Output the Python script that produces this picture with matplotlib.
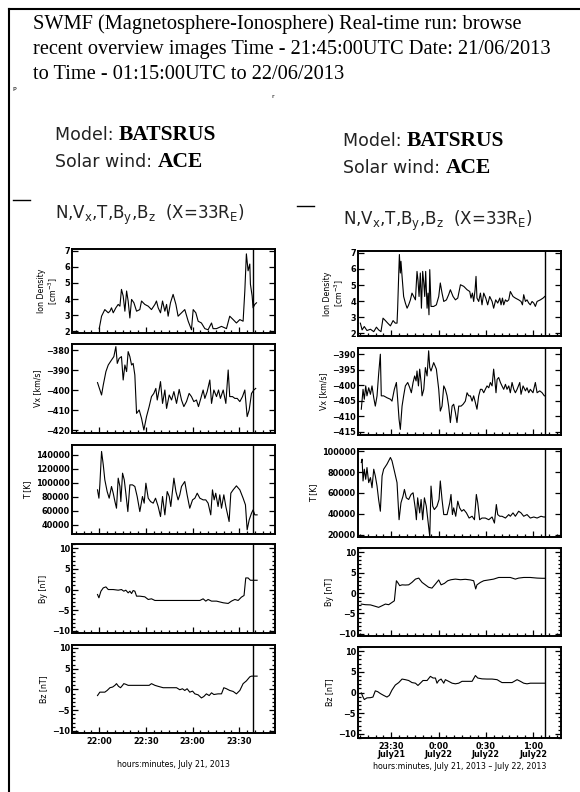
import matplotlib
matplotlib.use('Agg')
import matplotlib.pyplot as plt
from matplotlib.lines import Line2D
from matplotlib.ticker import MultipleLocator, FixedLocator

plt.rcParams['mathtext.default'] = 'regular'

W, H = 580, 792

title_lines = ["SWMF (Magnetosphere-Ionosphere) Real-time run: browse",
               "recent overview images Time - 21:45:00UTC Date: 21/06/2013",
               "to Time - 01:15:00UTC to 22/06/2013"]

# ---- left column: minutes after 22:00, July 21 ----
left_ticks = [0, 30, 60, 90]
left_ticklabels = ['22:00', '22:30', '23:00', '23:30']
left_xlim = (-17.5, 113)
left_now = 98.7

ln_t = [0, 1.5, 3.6, 5.8, 6.9, 7.9, 9.0, 10.7, 12.2, 13.3, 14.3, 15.4, 16.5, 17.6, 18.6,
        19.7, 20.8, 22.3, 24.0, 26.1, 27.2, 29.3, 31.5, 33.6, 35.8, 36.8, 37.9, 39.4, 40.7,
        42.2, 43.3, 44.3, 45.8, 47.5, 49.3, 50.7, 52.9, 55.0, 57.2, 59.3, 60.4, 62.1, 63.6,
        65.7, 67.9, 70.0, 72.2, 73.2, 75.4, 78.6, 81.8, 83.9, 86.1, 88.2, 90.4, 92.5, 93.6,
        94.6, 95.7, 96.8, 97.2, 98.3, 98.9, 100.0, 101.1]
ln_v = [2.17, 2.94, 3.35, 3.15, 3.25, 3.46, 3.15, 3.46, 3.67, 3.56, 4.60, 4.19, 3.25, 4.50, 3.88,
        2.83, 3.98, 3.77, 3.25, 3.35, 3.88, 3.67, 3.56, 3.35, 3.67, 3.88, 3.46, 3.15, 3.88,
        3.25, 3.67, 2.94, 3.77, 4.29, 3.67, 2.94, 3.15, 3.35, 2.63, 2.10, 3.35, 3.15, 2.63,
        2.52, 2.17, 2.10, 2.52, 2.17, 2.17, 2.31, 2.17, 2.94, 2.73, 2.52, 2.73, 2.63, 4.50,
        6.80, 5.75, 6.17, 4.92, 4.19, 3.46, 3.67, 3.77]

lv_t = [-1.1, 1.5, 2.6, 4.3, 5.8, 7.9, 9.4, 10.7, 11.6, 12.8, 14.3, 15.4, 16.5, 17.6, 18.6,
        19.7, 20.8, 21.8, 22.9, 24.0, 25.7, 27.2, 28.7, 30.4, 32.1, 33.6, 35.1, 36.4, 37.3,
        38.5, 39.4, 40.7, 42.2, 43.3, 45.0, 46.5, 48.0, 49.7, 51.4, 52.9, 54.4, 56.1, 57.8,
        59.3, 60.8, 62.5, 63.8, 65.3, 66.8, 67.9, 69.4, 71.1, 72.2, 73.7, 75.4, 76.7, 77.9,
        79.7, 81.4, 82.9, 83.9, 85.7, 87.2, 88.7, 90.4, 92.1, 93.6, 95.1, 96.4, 97.9, 99.4, 100.6]
lv_v = [-396.3, -402.5, -397.5, -390.8, -387.5, -385.0, -383.3, -378.3, -386.7, -384.2,
        -383.3, -395.0, -387.5, -390.8, -380.8, -383.3, -387.5, -386.7, -392.5, -411.7,
        -410.0, -414.2, -420.0, -413.3, -408.3, -403.3, -401.7, -399.2, -405.0, -400.0,
        -395.8, -406.7, -400.0, -409.2, -402.5, -405.0, -400.8, -406.7, -399.7, -405.0,
        -408.3, -405.8, -401.7, -403.3, -405.8, -405.0, -408.3, -404.2, -400.0, -404.2,
        -400.8, -395.0, -406.7, -400.0, -403.3, -400.0, -404.2, -400.0, -406.7, -390.0,
        -403.3, -403.3, -404.2, -404.2, -405.8, -403.3, -400.0, -413.3, -410.0, -401.7,
        -400.0, -399.2]

lT_t = [-1.1, -0.2, 0.4, 1.5, 2.6, 3.6, 5.1, 6.4, 7.9, 9.0, 10.1, 11.1, 12.2, 13.3, 13.9,
        15.0, 16.1, 17.1, 18.4, 19.7, 21.4, 22.9, 24.4, 26.1, 27.8, 28.9, 30.0, 31.5, 33.0,
        34.7, 36.2, 37.9, 39.4, 40.7, 42.2, 43.7, 45.0, 46.0, 48.0, 49.3, 50.7, 51.8, 52.9,
        55.0, 56.5, 58.2, 60.0, 61.5, 63.0, 64.7, 66.8, 68.5, 70.0, 71.7, 72.8, 73.9, 74.9,
        76.4, 77.5, 78.6, 80.1, 81.4, 83.5, 84.6, 86.1, 88.2, 90.4, 92.5, 94.0, 95.1, 96.4,
        97.9, 98.9, 100.0, 101.5]
lT_v = [90000, 78100, 97100, 144800, 125700, 104300, 87600, 78100, 94800, 85200, 73300, 63800,
        106700, 94800, 73300, 113800, 104300, 85200, 59000, 97100, 97100, 94800, 80500, 59000,
        80500, 71000, 99500, 78100, 73300, 71000, 78100, 66200, 51900, 80500, 54300, 87600,
        80500, 66200, 106700, 87600, 75700, 82900, 94800, 101900, 82900, 63800, 75700, 78100,
        85200, 78100, 75700, 75700, 71000, 54300, 90000, 75700, 85200, 66200, 82900, 63800,
        82900, 66200, 44800, 85200, 90000, 95700, 90000, 78100, 68600, 32900, 47100, 56700,
        61400, 54300, 54300]

lBy_t = [-1.1, -0.2, 1.1, 2.6, 4.3, 5.8, 9.0, 12.2, 14.3, 15.8, 17.1, 18.6, 19.7, 20.8, 21.8,
         22.9, 24.0, 26.1, 29.3, 31.5, 33.6, 35.8, 39.0, 47.5, 56.1, 64.7, 66.8, 68.5, 70.0,
         72.2, 75.4, 79.7, 82.9, 85.0, 87.2, 89.3, 91.4, 93.1, 94.2, 95.7, 97.2, 98.9, 101.5]
lBy_v = [-1.2, -2.0, -0.4, 0.4, 0.64, 0.0, 0.0, -0.16, 0.0, -0.4, -0.16, -0.8, -0.4, -0.96,
         -0.24, -0.4, -1.6, -1.6, -1.76, -2.4, -2.24, -2.64, -2.64, -2.64, -2.64, -2.64, -2.24,
         -2.8, -2.4, -2.8, -2.8, -3.2, -3.36, -2.8, -2.4, -2.64, -1.84, -1.44, 2.8, 2.8, 2.24,
         2.24, 2.24]

lBz_t = [-1.1, 0.4, 3.6, 5.1, 6.9, 8.6, 10.1, 11.1, 12.4, 13.7, 15.0, 15.8, 17.1, 18.6, 20.8,
         24.0, 26.1, 28.7, 30.4, 32.1, 33.6, 35.8, 37.9, 41.1, 44.3, 47.5, 49.7, 51.8, 53.5,
         55.0, 56.5, 58.2, 60.0, 61.5, 63.6, 65.7, 67.2, 68.9, 70.7, 72.2, 73.7, 76.4, 78.6,
         80.1, 81.8, 83.9, 86.1, 88.2, 90.4, 92.5, 94.6, 96.8, 97.9, 101.5]
lBz_v = [-1.48, -0.66, -0.66, -0.25, 0.41, 0.57, 0.98, 1.39, 0.74, 0.41, 0.98, 1.39, 1.23, 0.98,
         0.98, 0.98, 0.98, 0.98, 0.98, 0.98, 1.39, 0.98, 0.74, 0.41, 0.41, 0.41, 0.41, -0.08,
         0.16, -0.25, 0.16, -0.66, -0.41, -1.07, -1.31, -2.05, -1.72, -1.07, -1.48, -0.82,
         -1.23, -1.07, -1.07, 0.41, 0.16, -0.25, -0.49, -1.07, -0.25, 1.39, 2.05, 3.03, 3.2, 3.2]

# ---- right column: minutes after 23:30, July 21 ----
right_ticks = [0, 30, 60, 90]
right_ticklabels = ['23:30\nJuly21', '0:00\nJuly22', '0:30\nJuly22', '1:00\nJuly22']
right_xlim = (-21.2, 107.8)
right_now = 97.9

rn_t = [-19.7, -18.6, -17.2, -15.5, -13.3, -11.2, -9.5, -8.1, -6.6, -5.3, -3.8, -2.3, -0.6,
        1.1, 2.5, 3.6, 4.0, 4.7, 5.1, 5.7, 6.1, 6.8, 7.8, 8.9, 10.0, 11.0, 12.1, 13.1, 14.2,
        15.3, 16.3, 16.9, 17.6, 18.4, 19.1, 19.9, 20.6, 21.2, 21.8, 22.7, 23.3, 23.9, 24.4,
        25.2, 26.9, 28.6, 30.1, 31.1, 32.2, 33.3, 35.0, 36.4, 37.5, 39.2, 40.7, 42.2, 43.9,
        46.0, 48.1, 49.8, 50.6, 51.5, 52.3, 53.2, 53.8, 54.4, 55.5, 56.6, 57.6, 58.7, 60.0,
        61.2, 62.5, 64.0, 65.0, 66.3, 67.6, 68.9, 69.7, 70.6, 71.4, 72.5, 73.5, 74.6, 75.6,
        77.3, 78.8, 80.9, 82.4, 83.3, 84.1, 85.2, 86.2, 87.3, 88.3, 89.4, 90.5, 91.5, 92.6,
        94.7, 96.4, 97.5]
rn_v = [2.63, 2.21, 2.42, 2.17, 2.25, 2.10, 2.38, 2.21, 2.10, 2.94, 2.79, 2.63, 2.46,
        2.79, 2.63, 2.63, 3.56, 5.75, 6.90, 5.75, 6.48, 5.54, 4.29, 3.88, 3.56, 3.77, 4.08,
        4.50, 4.29, 4.08, 5.85, 5.33, 4.29, 5.75, 3.56, 5.85, 5.13, 4.29, 5.85, 3.56, 4.50,
        3.15, 5.96, 3.67, 3.67, 3.77, 4.29, 5.13, 4.50, 3.98, 4.08, 4.40, 4.71, 4.29, 4.08,
        4.19, 5.02, 4.92, 4.71, 4.60, 4.19, 4.50, 3.98, 4.71, 5.54, 4.19, 3.98, 4.50, 3.77,
        4.50, 4.19, 3.77, 4.29, 3.98, 3.56, 4.08, 3.88, 4.19, 3.77, 4.19, 3.77, 4.08, 3.98,
        4.08, 4.60, 4.29, 4.19, 4.08, 3.98, 3.77, 4.40, 3.98, 4.08, 3.88, 3.77, 3.98, 3.88,
        3.67, 3.98, 4.08, 4.19, 4.29]

rv_t = [-19.1, -18.0, -17.2, -16.3, -15.5, -14.4, -13.3, -12.3, -11.2, -10.2, -9.1, -8.1,
        -7.0, -6.4, -4.9, -2.8, -0.6, 0.4, 1.9, 3.2, 4.0, 4.9, 5.7, 6.8, 7.8, 8.9, 10.4, 11.7,
        12.7, 13.8, 14.8, 15.7, 16.3, 17.2, 18.0, 18.9, 19.5, 20.6, 21.6, 22.7, 23.7, 24.4,
        25.2, 26.9, 28.6, 30.1, 31.1, 32.2, 33.3, 34.3, 35.4, 36.4, 37.5, 38.6, 39.6, 40.7,
        41.7, 42.8, 44.3, 45.6, 47.0, 48.1, 49.2, 50.2, 51.3, 52.3, 53.4, 54.4, 55.5, 56.6,
        57.6, 58.7, 59.7, 60.8, 61.9, 62.9, 64.0, 65.0, 65.7, 66.5, 67.2, 68.2, 69.3, 70.3,
        71.4, 72.5, 73.5, 74.6, 75.6, 76.7, 77.8, 78.8, 79.9, 81.6, 82.4, 83.7, 85.2, 86.2,
        87.3, 88.3, 90.0, 91.5, 92.6, 94.3, 95.8, 97.2, 97.9]
rv_v = [-407.7, -401.3, -404.5, -400.2, -403.4, -400.8, -402.9, -400.2, -404.0, -406.7,
        -403.4, -396.5, -390.0, -403.4, -403.4, -404.0, -404.5, -405.1, -401.3, -399.1,
        -404.5, -411.0, -414.2, -406.7, -403.4, -400.2, -399.1, -400.8, -402.4, -399.1,
        -397.0, -398.6, -395.4, -400.2, -394.8, -399.1, -403.4, -401.3, -394.3, -397.0,
        -388.9, -394.3, -395.4, -392.7, -394.8, -401.3, -408.3, -406.7, -400.2, -401.3,
        -403.4, -406.7, -412.0, -406.7, -406.1, -408.8, -412.0, -406.7, -406.7, -406.1,
        -405.1, -402.4, -403.4, -403.4, -405.1, -403.4, -405.6, -407.7, -403.4, -401.3,
        -401.3, -402.4, -401.3, -400.2, -400.8, -399.1, -400.2, -394.8, -398.1, -402.4,
        -398.1, -397.5, -399.1, -400.2, -401.3, -399.7, -401.3, -400.2, -402.4, -399.1,
        -401.3, -402.4, -401.3, -399.1, -402.9, -400.2, -401.8, -400.8, -402.4, -401.3,
        -402.4, -399.1, -402.4, -401.8, -402.4, -403.4, -403.4]

rT_t = [-19.1, -18.6, -18.0, -17.2, -16.3, -15.5, -14.4, -13.3, -12.3, -11.2, -10.2, -9.1,
        -8.1, -7.0, -5.9, -4.9, -2.8, -0.6, 0.4, 1.9, 3.6, 4.9, 6.1, 7.4, 8.3, 9.5, 11.0, 12.5,
        13.8, 15.3, 15.9, 16.7, 18.0, 18.9, 19.9, 21.0, 22.2, 23.3, 24.4, 25.2, 26.3, 27.3,
        29.0, 30.3, 31.1, 32.2, 33.3, 35.4, 37.1, 37.9, 38.8, 39.6, 40.9, 42.2, 43.4, 44.7,
        46.0, 47.7, 49.4, 51.3, 52.8, 54.0, 54.9, 56.1, 57.6, 59.7, 61.9, 64.0, 65.5, 66.7,
        67.6, 68.9, 70.3, 72.5, 74.6, 75.6, 77.3, 78.8, 80.9, 82.4, 84.1, 86.2, 88.3, 90.5,
        92.6, 95.1, 96.8, 97.9]
rT_v = [89100, 92300, 71500, 82700, 73100, 84300, 69900, 74700, 65000, 82700, 76300, 66600,
        53800, 42600, 76300, 82700, 87500, 93900, 90700, 81100, 69900, 34500, 50600, 57000,
        63400, 55400, 53800, 58600, 60200, 44200, 34500, 55400, 41000, 53800, 34500, 55400,
        47400, 32900, 18500, 66600, 47400, 44200, 47400, 53800, 71500, 53800, 39400, 39400,
        50600, 58600, 39400, 45800, 37800, 52200, 45800, 42600, 44200, 41000, 36100, 37800,
        34500, 58600, 50600, 34500, 36100, 36100, 34500, 37100, 31300, 49000, 39400, 37800,
        37800, 36100, 39400, 37800, 41000, 37800, 42600, 41000, 37800, 39400, 36100, 37100,
        36100, 37800, 37100, 37100]

rBy_t = [-19.1, -16.5, -13.3, -10.2, -8.1, -5.9, -3.8, -1.7, 0.4, 1.9, 3.2, 4.0, 5.3, 6.8,
         8.9, 11.0, 13.1, 15.3, 17.4, 19.5, 21.6, 23.7, 25.8, 28.0, 30.1, 31.6, 33.7, 35.8,
         37.9, 40.7, 43.9, 47.0, 50.2, 52.3, 53.6, 54.4, 56.6, 58.7, 61.9, 65.0, 68.2, 71.4,
         75.6, 78.8, 80.9, 84.1, 88.3, 92.6, 95.8, 97.9]
rBy_v = [-2.7, -2.85, -2.9, -3.25, -3.5, -3.1, -2.7, -2.85, -2.3, -1.9, 3.0, 2.6, 1.8, 2.0,
         1.95, 2.0, 2.6, 3.4, 3.65, 2.6, 2.0, 1.4, 1.2, 2.2, 3.2, 2.0, 2.35, 3.0, 3.25, 3.4,
         3.25, 3.35, 3.2, 3.0, 1.0, 2.0, 2.6, 3.0, 3.2, 3.4, 3.8, 3.8, 3.8, 3.4, 3.65, 3.8,
         3.8, 3.65, 3.6, 3.6]

rBz_t = [-19.1, -18.0, -17.2, -15.5, -13.3, -11.7, -10.2, -8.7, -7.0, -4.9, -2.8, -1.3, 0.4,
         2.5, 4.7, 6.8, 8.9, 11.0, 13.1, 15.3, 16.9, 18.4, 20.1, 22.7, 24.8, 26.5, 28.0, 29.0,
         30.1, 31.6, 33.3, 34.3, 36.4, 38.6, 40.7, 42.8, 44.9, 47.0, 49.2, 51.3, 53.4, 54.9,
         57.6, 60.8, 64.0, 67.2, 68.9, 70.3, 73.5, 76.7, 79.9, 82.0, 84.1, 86.2, 88.3, 91.5,
         94.7, 97.9]
rBz_v = [-0.1, -1.1, -1.7, -1.3, -1.25, -1.1, 0.4, 0.2, -0.25, -0.7, -1.1, -0.7, 0.6, 1.8,
         2.4, 3.25, 3.1, 2.9, 2.4, 2.25, 1.7, 2.25, 2.9, 2.9, 3.9, 3.5, 3.5, 2.25, 2.9, 3.25,
         2.25, 3.1, 2.7, 2.25, 2.1, 2.25, 2.7, 2.7, 2.7, 2.7, 4.1, 3.5, 3.3, 3.25, 3.25, 3.1,
         2.7, 2.4, 2.4, 2.4, 3.1, 2.7, 2.25, 2.1, 2.25, 2.25, 2.25, 2.25]

ylabels = ['Ion Density\n[cm$^{-3}$]', 'Vx [km/s]', 'T [K]', 'By [nT]', 'Bz [nT]']
B_ticks = [-10, -5, 0, 5, 10]


def fx(x):
    return x / W


def fy(y):
    return 1 - y / H


def rect(x0, y0, x1, y1):
    return [x0 / W, 1 - y1 / H, (x1 - x0) / W, (y1 - y0) / H]


fig = plt.figure(figsize=(W / 100, H / 100), dpi=100)
renderer = fig.canvas.get_renderer()

# page border
fig.add_artist(Line2D([fx(9), 1], [fy(9), fy(9)], color='black', lw=1.5, transform=fig.transFigure))
fig.add_artist(Line2D([fx(9), fx(9)], [fy(9), 0], color='black', lw=1.5, transform=fig.transFigure))

for i, line in enumerate(title_lines):
    fig.text(fx(33), fy(29 + 25 * i), line, family='Liberation Serif', fontsize=14.7, va='baseline')

fig.text(fx(12), fy(91), 'P', fontsize=4.5)
fig.text(fx(271), fy(98), 'r', fontsize=4.5)


def header(x, y, label, value):
    t = fig.text(fx(x), fy(y), label, fontsize=12.5, va='baseline', color='#222222')
    bb = t.get_window_extent(renderer)
    fig.text(bb.x1 / W, fy(y), value, family='Liberation Serif', weight='bold',
             fontsize=15.5, va='baseline')


def column_header(x, y0, dash_x):
    header(x, y0, 'Model: ', 'BATSRUS')
    header(x, y0 + 27, 'Solar wind: ', 'ACE')
    fig.add_artist(Line2D([fx(dash_x), fx(dash_x + 17)], [fy(y0 + 60), fy(y0 + 60)],
                          color='black', lw=1, transform=fig.transFigure))
    fig.text(fx(x), fy(y0 + 79), 'N,V$_x$,T,B$_y$,B$_z$  (X=33R$_E$)', fontsize=12,
             va='baseline', color='#222222')


column_header(55, 140, 13)
column_header(343, 146, 297)


def panel(box, t, v, ylim, yticks, ylabel, xlim, now, xticks, xticklabels, bottom, bminor=False):
    ax = fig.add_axes(rect(*box))
    ax.plot(t, v, color='black', lw=0.8)
    ax.axvline(now, color='black', lw=1.0)
    ax.set_xlim(*xlim)
    ax.set_ylim(*ylim)
    ax.set_yticks(yticks)
    ax.xaxis.set_major_locator(FixedLocator(xticks))
    ax.xaxis.set_minor_locator(MultipleLocator(5))
    if bminor:
        ax.yaxis.set_minor_locator(MultipleLocator(1))
    ax.tick_params(which='both', direction='in', top=False, right=True, left=True,
                   bottom=True, width=0.9, color='black')
    ax.tick_params(which='major', length=4)
    ax.tick_params(which='minor', length=2)
    ax.tick_params(axis='y', labelsize=5.9, pad=1.5)
    ax.tick_params(axis='x', labelsize=5.9, pad=3)
    for s in ax.spines.values():
        s.set_linewidth(1.4)
    ax.set_ylabel(ylabel, fontsize=5.7, labelpad=3, linespacing=1.1)
    for lab in ax.get_yticklabels():
        lab.set_fontweight('bold')
    if bottom:
        ax.set_xticklabels(xticklabels, linespacing=0.8)
        for lab in ax.get_xticklabels():
            lab.set_fontweight('bold')
    else:
        ax.tick_params(labelbottom=False)
    return ax


left_boxes = [(72, 249, 275, 333), (72, 344, 275, 433), (72, 445, 275, 534),
              (72, 544, 275, 633), (72, 645, 275, 733)]
right_boxes = [(358, 251, 561, 336), (358, 348, 561, 435), (358, 449, 561, 537),
               (358, 548, 561, 636), (358, 647, 561, 738)]

left_series = [(ln_t, ln_v, (1.9, 7.1), [2, 3, 4, 5, 6, 7]),
               (lv_t, lv_v, (-421.5, -377), [-420, -410, -400, -390, -380]),
               (lT_t, lT_v, (27000, 154000), [40000, 60000, 80000, 100000, 120000, 140000]),
               (lBy_t, lBy_v, (-10.5, 11), B_ticks),
               (lBz_t, lBz_v, (-10.5, 10.7), B_ticks)]
right_series = [(rn_t, rn_v, (1.83, 7.12), [2, 3, 4, 5, 6, 7]),
                (rv_t, rv_v, (-416, -388), [-415, -410, -405, -400, -395, -390]),
                (rT_t, rT_v, (18000, 102000), [20000, 40000, 60000, 80000, 100000]),
                (rBy_t, rBy_v, (-10.5, 11), B_ticks),
                (rBz_t, rBz_v, (-11, 11), B_ticks)]

for i in range(5):
    t, v, yl, yt = left_series[i]
    ax = panel(left_boxes[i], t, v, yl, yt, ylabels[i], left_xlim, left_now,
               left_ticks, left_ticklabels, i == 4, bminor=i >= 3)
    if i == 4:
        ax.set_xlabel('hours:minutes, July 21, 2013', fontsize=5.7, labelpad=10)
    t, v, yl, yt = right_series[i]
    ax = panel(right_boxes[i], t, v, yl, yt, ylabels[i], right_xlim, right_now,
               right_ticks, right_ticklabels, i == 4, bminor=i >= 3)
    if i == 4:
        ax.set_xlabel('hours:minutes, July 21, 2013 \u2013 July 22, 2013', fontsize=5.7, labelpad=2)

fig.savefig('out.png', dpi=100)
